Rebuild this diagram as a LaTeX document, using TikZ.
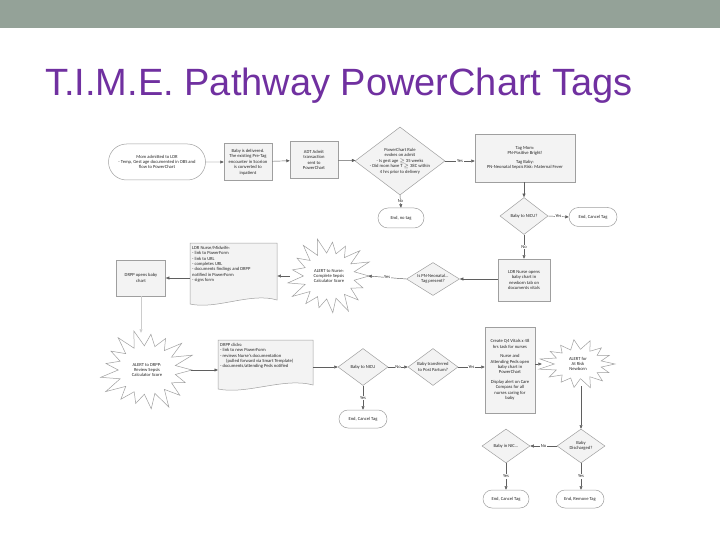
\documentclass[tikz,border=0pt]{standalone}
\usepackage{fontspec}
\setmainfont{Carlito}
\newfontfamily\titlefont{Liberation Sans}
\usetikzlibrary{shapes.geometric,shapes.misc,arrows.meta,calc}
\definecolor{barcol}{RGB}{148,162,152}
\definecolor{titlecol}{RGB}{112,48,160}
\definecolor{shapefill}{RGB}{243,243,243}
\definecolor{edgecol}{RGB}{95,95,95}
\newcommand\docpath[4]{%
 \draw[shapeline,fill=shapefill] (#1,#2) -- (#3,#2) -- (#3,#4-4) .. controls ({#3-0.3*(#3-#1)},#4-12) and ({#1+0.3*(#3-#1)},#4+6) .. (#1,#4) -- cycle;}
% #1 center node, #2 rx, #3 ry, #4 number of points
\newcommand\burstpath[4]{%
 \draw[shapeline,fill=white] ($(#1)+(0:#2 and #3)$)
 \foreach \i [evaluate=\i as \f using {mod(\i,2)==0 ? (1+0.09*sin(\i*137)) : 0.64}, evaluate=\i as \a using {\i*180/#4}] in {1,...,\numexpr2*#4-1\relax} { -- ($(#1)+(\a:{\f*#2} and {\f*#3})$) } -- cycle;}
\begin{document}
\begin{tikzpicture}[x=1pt,y=-1pt,
 every node/.style={font=\fontsize{4.6}{5.4}\selectfont, text=black!85, align=center, inner sep=1pt},
 shapeline/.style={draw=gray!75, line width=0.5pt},
 procbox/.style={shapeline, fill=shapefill, rectangle},
 termbox/.style={shapeline, fill=white, rounded rectangle},
 dia/.style={shapeline, fill=shapefill, diamond, inner sep=0pt},
 burst/.style={ellipse, inner sep=0pt},
 conn/.style={draw=edgecol, line width=0.45pt, -{Triangle[length=3.5pt,width=3pt]}},
 lbl/.style={fill=white, inner sep=0.6pt, font=\fontsize{4.6}{5}\selectfont}]
\useasboundingbox (0,0) rectangle (720,540);
\fill[barcol] (0,0) rectangle (720,28);
\node[anchor=base west, inner sep=0pt, font=\titlefont\fontsize{38}{40}\selectfont, text=titlecol] (title) at (45,96) {T.I.M.E. Pathway PowerChart Tags};

% row 1
\node[termbox, minimum width=99, minimum height=36] (n1) at (157,162) {Mom admitted to LDR\\- Temp, Gest age documented in OBS and\\flow to PowerChart};
\node[procbox, minimum width=48, minimum height=37] (n2) at (248,162) {Baby is delivered.\\The existing Pre-Tag\\encounter in Scorion\\is converted to\\inpatient};
\node[procbox, minimum width=48, minimum height=37] (n3) at (314,160) {ADT Admit\\transaction\\sent to\\PowerChart};
\node[dia, minimum width=90, minimum height=68] (d1) at (400,161) {};
\node (d1t) at (400,161) {PowerChart Rule\\evokes on admit\\- Is gest age $\geq$ 35 weeks\\- Did mom have T $\geq$ 38C within\\4 hrs prior to delivery};
\node[procbox, minimum width=100, minimum height=48] (n6) at (525,158) {Tag Mom:\\PN-Positive Bright!\\[3pt]Tag Baby:\\PN-Neonatal Sepsis Risk: Maternal Fever};
\node[termbox, minimum width=48, minimum height=20] (e1) at (401,218) {End, no tag};
\node[dia, minimum width=48, minimum height=37] (d2) at (524,216) {};
\node (d2t) at (524,216) {Baby to NICU?};
\node[termbox, minimum width=50, minimum height=19] (e2) at (593,217) {End, Cancel Tag};

% row 2
\node[procbox, minimum width=52, minimum height=42] (n9) at (524,280) {LDR Nurse opens\\baby chart in\\newborn tab on\\documents vitals};
\node[dia, minimum width=53, minimum height=33] (d3) at (433,279) {};
\node (d3t) at (433,279) {Is PN-Neonatal...\\Tag present?};
\node[burst, minimum width=78, minimum height=70] (s1) at (329,276) {};
\burstpath{s1}{40}{36}{17}
\node (s1t) at (329,276) {ALERT to Nurse:\\Complete Sepsis\\Calculator Score};
\docpath{190}{243}{277}{304}
\node[minimum width=87, minimum height=56, anchor=north west] (doc1) at (190,243) {};
\node[align=left, anchor=north west, inner sep=1pt] (doc1t) at (191,245) {LDR Nurse/Midwife:\\- link to PowerForm\\- link to URL\\- completes URL\\- documents findings and DRPP\\notified in PowerForm\\- signs form};
\node[procbox, minimum width=49, minimum height=36] (n13) at (141,278) {DRPP opens baby\\chart};

% row 3
\node[burst, minimum width=88, minimum height=74] (s2) at (147,370) {};
\burstpath{s2}{45}{38}{17}
\node (s2t) at (147,370) {ALERT to DRPP:\\Review Sepsis\\Calculator Score};
\docpath{218}{340}{313}{389}
\node[minimum width=95, minimum height=44, anchor=north west] (doc2) at (218,340) {};
\node[align=left, anchor=north west, inner sep=1pt] (doc2t) at (219,342) {DRPP clicks:\\- link to new PowerForm\\- reviews Nurse's documentation\\\hspace{6pt}(pulled forward via Smart Template)\\- documents/attending Peds notified};
\node[dia, minimum width=50, minimum height=37] (d4) at (363,367) {};
\node (d4t) at (363,367) {Baby to NICU};
\node[termbox, minimum width=50, minimum height=18] (e3) at (363,419) {End, Cancel Tag};
\node[dia, minimum width=50, minimum height=37] (d5) at (433,367) {};
\node (d5t) at (433,367) {Baby transferred\\to Post Partum?};
\node[procbox, minimum width=50, minimum height=86] (n19) at (510,370) {Create Q4 Vitals x 48\\hrs task for nurses\\[4pt]Nurse and\\Attending Peds open\\baby chart in\\PowerChart\\[4pt]Display alert on Care\\Compass for all\\nurses caring for\\baby};
\node[burst, minimum width=72, minimum height=44] (s3) at (578,364) {};
\burstpath{s3}{37}{23}{15}
\node (s3t) at (578,364) {ALERT for\\At Risk\\Newborn};

% row 4
\node[dia, minimum width=48, minimum height=34] (d6) at (581,446) {};
\node (d6t) at (581,446) {Baby\\Discharged?};
\node[dia, minimum width=48, minimum height=34] (d7) at (506,446) {};
\node (d7t) at (506,446) {Baby in NIC...};
\node[termbox, minimum width=48, minimum height=18] (e4) at (506,499) {End, Cancel Tag};
\node[termbox, minimum width=50, minimum height=18] (e5) at (580,499) {End, Remove Tag};

% connectors
\draw[conn] (n1) -- (n2);
\draw[conn] (n2) -- (n3);
\draw[conn] (n3) -- (d1);
\draw[conn] (d1.east) -- node[lbl] {Yes} (n6.west |- d1.east);
\draw[conn] (d1.south) -- node[lbl, pos=0.45] {No} (e1.north);
\draw[conn] (n6.south -| d2.north) -- (d2.north);
\draw[conn] (d2.east) -- node[lbl] {Yes} (e2.west);
\draw[conn] (d2.south) -- node[lbl] {No} (n9.north -| d2.south);
\draw[conn] (n9.west |- d3.east) -- (d3.east);
\draw[conn] (d3.west) -- node[lbl] {Yes} (s1.east);
\draw[conn] (s1.west) -- (doc1.east |- s1.west);
\draw[conn] (doc1.west |- n13.east) -- (n13.east);
\draw[conn, draw=gray!40] (n13.south) -- (s2.north -| n13.south);
\draw[conn] (s2.east) -- (doc2.west |- s2.east);
\draw[conn] (doc2.east |- d4.west) -- (d4.west);
\draw[conn] (d4.south) -- node[lbl] {Yes} (e3.north);
\draw[conn] (d4.east) -- node[lbl] {No} (d5.west);
\draw[conn] (d5.east) -- node[lbl] {Yes} (n19.west |- d5.east);
\draw[conn] (n19.east |- s3.west) -- (s3.west);
\draw[conn] (s3.south -| d6.north) -- (d6.north);
\draw[conn] (d6.west) -- node[lbl] {No} (d7.east);
\draw[conn] (d7.south) -- node[lbl] {Yes} (e4.north);
\draw[conn] (d6.south) -- node[lbl] {Yes} (e5.north -| d6.south);
\end{tikzpicture}
\end{document}
